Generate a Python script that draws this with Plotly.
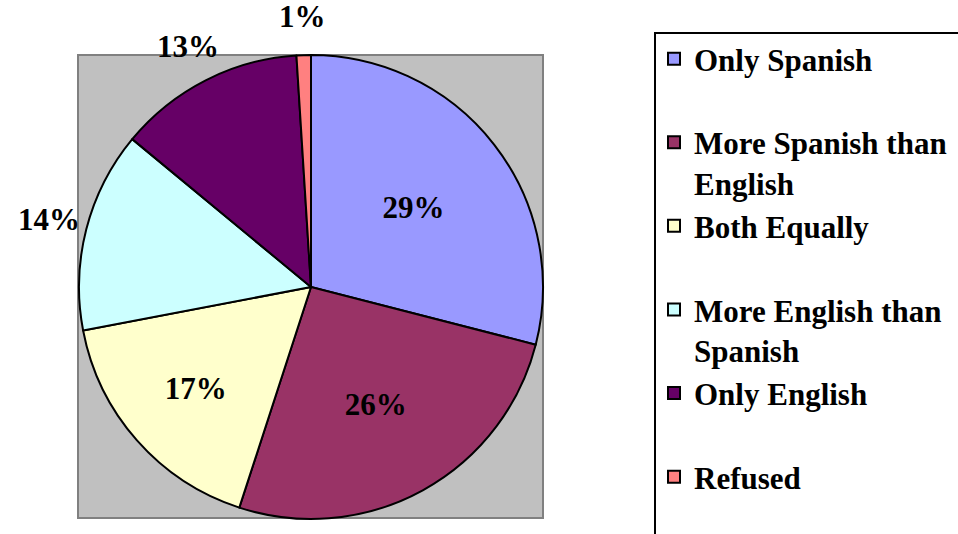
import math
import plotly.graph_objects as go

categories = ["Only Spanish", "More Spanish than English", "Both Equally",
              "More English than Spanish", "Only English", "Refused"]
legend_labels = ["Only Spanish<br>&nbsp;", "More Spanish than<br>English", "Both Equally<br>&nbsp;",
                 "More English than<br>Spanish", "Only English<br>&nbsp;", "Refused"]
values = [29, 26, 17, 14, 13, 1]
colors = ["#9999FF", "#993366", "#FFFFCC", "#CCFFFF", "#660066", "#FF8080"]
label_inside = [True, True, True, False, False, False]

W, H = 958, 534
cx, cy, r = 311, 287, 232
FONT = "Liberation Serif"
OUT_FACTOR = 1.165

fig = go.Figure()
fig.add_trace(go.Pie(
    labels=legend_labels,
    values=values,
    sort=False,
    direction="clockwise",
    rotation=0,
    marker=dict(colors=colors, line=dict(color="black", width=2)),
    texttemplate=["%{percent:.0%}" if ins else "" for ins in label_inside],
    textposition=["inside" if ins else "none" for ins in label_inside],
    insidetextorientation="horizontal",
    textfont=dict(family=FONT, size=31, color="black", weight="bold"),
    insidetextfont=dict(family=FONT, size=31, color="black", weight="bold"),
    domain=dict(x=[(cx - r) / W, (cx + r) / W], y=[1 - (cy + r) / H, 1 - (cy - r) / H]),
    hovertext=categories,
    hoverinfo="text+percent",
))

# outside percentage labels, placed at the mid-angle of their slices
total = sum(values)
cum = 0
for v, ins in zip(values, label_inside):
    mid = (cum + v / 2) / total * 2 * math.pi
    cum += v
    if ins:
        continue
    px = cx + OUT_FACTOR * r * math.sin(mid)
    py = cy - OUT_FACTOR * r * math.cos(mid)
    fig.add_annotation(x=px / W, y=1 - py / H, xref="paper", yref="paper",
                       text=f"{round(v / total * 100)}%", showarrow=False,
                       xanchor="center", yanchor="middle", borderpad=0,
                       font=dict(family=FONT, size=31, color="black", weight="bold"))

# grey plot-area background
fig.add_shape(type="rect", xref="paper", yref="paper",
              x0=78 / W, x1=543 / W, y0=1 - 518 / H, y1=1 - 55 / H,
              fillcolor="#C0C0C0", line=dict(color="#808080", width=2), layer="below")
# legend frame (runs past the right and bottom edges, as in the original)
fig.add_shape(type="rect", xref="paper", yref="paper",
              x0=655 / W, x1=(W + 30) / W, y0=-0.1, y1=1 - 33 / H,
              fillcolor="white", line=dict(color="black", width=2), layer="below")

fig.update_layout(
    width=W, height=H,
    margin=dict(l=0, r=0, t=0, b=0),
    paper_bgcolor="white",
    plot_bgcolor="white",
    showlegend=True,
    legend=dict(
        x=654 / W, y=1 - 32 / H, xanchor="left", yanchor="top",
        borderwidth=0, bgcolor="rgba(0,0,0,0)",
        font=dict(family=FONT, size=31, color="black", weight="bold"),
        valign="top",
        traceorder="normal",
    ),
)

fig.write_html("out.html", config={"displayModeBar": False},
               post_script="document.body.style.margin='0';")
